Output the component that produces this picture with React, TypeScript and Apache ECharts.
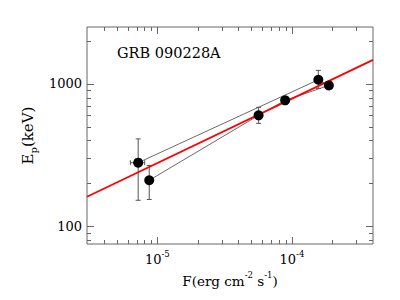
import React, { useEffect, useRef } from "react";
import * as echarts from "echarts";

// Observed points (flux in erg cm^-2 s^-1, Ep in keV)
const fluxValues = [7.2e-6, 8.7e-6, 5.65e-5, 8.9e-5, 1.57e-4, 1.88e-4];
const epValues = [279, 210, 600, 764, 1066, 973];
const epLow = [152, 154, 527, 735, 927, 945];
const epHigh = [410, 267, 683, 795, 1240, 1002];
const fluxLow = [6.3e-6, 8.7e-6, 5.65e-5, 8.9e-5, 1.57e-4, 1.88e-4];
const fluxHigh = [8.05e-6, 8.7e-6, 5.65e-5, 8.9e-5, 1.57e-4, 1.88e-4];
// order in which the points are joined
const pathOrder = [0, 4, 5, 3, 2, 1];
// fitted relation end points
const fitFlux = [3e-6, 4e-4];
const fitEp = [161, 1470];

// axis ticks
const xMajorTicks = [1e-5, 1e-4];
const xMinorTicks = [4e-6, 5e-6, 6e-6, 7e-6, 8e-6, 9e-6, 2e-5, 3e-5, 4e-5, 5e-5, 6e-5, 7e-5, 8e-5, 9e-5, 2e-4, 3e-4];
const yMajorTicks = [100, 1000];
const yMinorTicks = [80, 90, 200, 300, 400, 500, 600, 700, 800, 900, 2000];

const X_MIN = 3e-6, X_MAX = 4e-4, Y_MIN = 75, Y_MAX = 2500;
const FRAME = "#666";
const SERIF = "DejaVu Serif";

export default function App() {
  const ref = useRef<HTMLDivElement>(null);
  useEffect(() => {
    if (!ref.current) return;
    const chart = echarts.init(ref.current, null, { renderer: "svg" });

    const tickData: number[][] = [];
    xMajorTicks.forEach((v) => tickData.push([v, 100, 0, 1]));
    xMinorTicks.forEach((v) => tickData.push([v, 100, 0, 0]));
    yMajorTicks.forEach((v) => tickData.push([1e-5, v, 1, 1]));
    yMinorTicks.forEach((v) => tickData.push([1e-5, v, 1, 0]));

    const errData = fluxValues.map((f, i) => [f, epValues[i], fluxLow[i], fluxHigh[i], epLow[i], epHigh[i]]);
    const pointData = fluxValues.map((f, i) => [f, epValues[i]]);
    const pathData = pathOrder.map((i) => [fluxValues[i], epValues[i]]);
    const fitData = fitFlux.map((f, i) => [f, fitEp[i]]);

    const supLabel = (v: number) => {
      const e = Math.round(Math.log10(v));
      if (Math.abs(Math.log10(v) - e) > 1e-6) return "";
      return `{n|10}{s|${e}}`;
    };

    const lineStyle = { stroke: FRAME, lineWidth: 1 };
    const txt = (size: number, extra: any = {}) => ({ fontFamily: SERIF, fontSize: size, color: "#000", ...extra });

    chart.setOption({
      animation: false,
      textStyle: { fontFamily: SERIF },
      grid: { left: 87, right: 27, top: 27, bottom: 56, show: true, borderColor: FRAME, borderWidth: 1, backgroundColor: "transparent" },
      xAxis: {
        type: "log",
        logBase: 10,
        min: X_MIN,
        max: X_MAX,
        axisLine: { show: false },
        axisTick: { show: false },
        splitLine: { show: false },
        axisLabel: {
          margin: 5,
          ...txt(13),
          formatter: supLabel,
          rich: {
            n: txt(13, { lineHeight: 17, verticalAlign: "bottom" }),
            s: txt(8.5, { lineHeight: 9, verticalAlign: "top" }),
          },
        },
        name: "{m|F(erg cm}{s|-2}{m| s}{s|-1}{m|)}",
        nameLocation: "middle",
        nameGap: 29,
        nameTextStyle: {
          ...txt(13.5, { lineHeight: 17, verticalAlign: "bottom" }),
          rich: {
            m: txt(13.5, { lineHeight: 17, verticalAlign: "bottom" }),
            s: txt(8.5, { lineHeight: 9, verticalAlign: "top" }),
          },
        },
      },
      yAxis: {
        type: "log",
        logBase: 10,
        min: Y_MIN,
        max: Y_MAX,
        axisLine: { show: false },
        axisTick: { show: false },
        splitLine: { show: false },
        axisLabel: {
          margin: 5,
          ...txt(13),
          formatter: (v: number) => {
            const e = Math.log10(v);
            return Math.abs(e - Math.round(e)) < 1e-6 ? String(Math.round(v)) : "";
          },
        },
        name: "{m|E}{p|p}{m|(keV)}",
        nameLocation: "middle",
        nameRotate: 90,
        nameGap: 46,
        nameTextStyle: {
          ...txt(15, { lineHeight: 16, verticalAlign: "top" }),
          rich: {
            m: txt(15, { lineHeight: 16, verticalAlign: "top" }),
            p: txt(10, { lineHeight: 11, padding: [8, 0, 0, 0], verticalAlign: "top" }),
          },
        },
      },
      graphic: [
        {
          type: "text",
          left: 117,
          top: 45,
          style: { text: "GRB 090228A", fontFamily: SERIF, fontSize: 14.5, fill: "#000" },
        },
      ],
      series: [
        {
          type: "custom",
          silent: true,
          encode: { x: 0, y: 1 },
          data: tickData,
          clip: false,
          renderItem: (params: any, api: any) => {
            const x = api.value(0), y = api.value(1), axis = api.value(2), major = api.value(3);
            const cs = params.coordSys;
            const len = major ? 7 : 4;
            const p = api.coord([x, y]);
            if (axis === 0) {
              const px = Math.round(p[0]) + 0.5;
              const b = cs.y + cs.height;
              return {
                type: "group",
                children: [
                  { type: "line", shape: { x1: px, y1: b, x2: px, y2: b - len }, style: lineStyle },
                  { type: "line", shape: { x1: px, y1: cs.y, x2: px, y2: cs.y + len }, style: lineStyle },
                ],
              };
            }
            const py = Math.round(p[1]) + 0.5;
            const r = cs.x + cs.width;
            return {
              type: "group",
              children: [
                { type: "line", shape: { x1: cs.x, y1: py, x2: cs.x + len, y2: py }, style: lineStyle },
                { type: "line", shape: { x1: r, y1: py, x2: r - len, y2: py }, style: lineStyle },
              ],
            };
          },
        },
        {
          type: "line",
          data: pathData,
          symbol: "none",
          lineStyle: { color: "#444", width: 0.8 },
          silent: true,
          z: 2,
        },
        {
          type: "custom",
          silent: true,
          encode: { x: 0, y: 1 },
          data: errData,
          z: 3,
          renderItem: (params: any, api: any) => {
            const f = api.value(0), ep = api.value(1), fl = api.value(2), fh = api.value(3), el = api.value(4), eh = api.value(5);
            const st = { stroke: "#555", lineWidth: 1 };
            const cap = 2.5;
            const c = api.coord([f, ep]);
            const lo = api.coord([f, el]);
            const hi = api.coord([f, eh]);
            const children: any[] = [
              { type: "line", shape: { x1: c[0], y1: lo[1], x2: c[0], y2: hi[1] }, style: st },
              { type: "line", shape: { x1: c[0] - cap, y1: lo[1], x2: c[0] + cap, y2: lo[1] }, style: st },
              { type: "line", shape: { x1: c[0] - cap, y1: hi[1], x2: c[0] + cap, y2: hi[1] }, style: st },
            ];
            if (fh > fl) {
              const l = api.coord([fl, ep]);
              const h = api.coord([fh, ep]);
              children.push(
                { type: "line", shape: { x1: l[0], y1: c[1], x2: h[0], y2: c[1] }, style: st },
                { type: "line", shape: { x1: l[0], y1: c[1] - cap, x2: l[0], y2: c[1] + cap }, style: st },
                { type: "line", shape: { x1: h[0], y1: c[1] - cap, x2: h[0], y2: c[1] + cap }, style: st }
              );
            }
            return { type: "group", children };
          },
        },
        {
          type: "line",
          data: fitData,
          symbol: "none",
          lineStyle: { color: "#ff0000", width: 1.8 },
          silent: true,
          z: 4,
        },
        {
          type: "scatter",
          data: pointData,
          symbol: "circle",
          symbolSize: 10,
          itemStyle: { color: "#000", opacity: 1 },
          silent: true,
          z: 5,
        },
      ],
    });
    return () => chart.dispose();
  }, []);
  return <div ref={ref} style={{ position: "fixed", left: 0, top: 0, width: 400, height: 300, background: "#fff" }} />;
}
